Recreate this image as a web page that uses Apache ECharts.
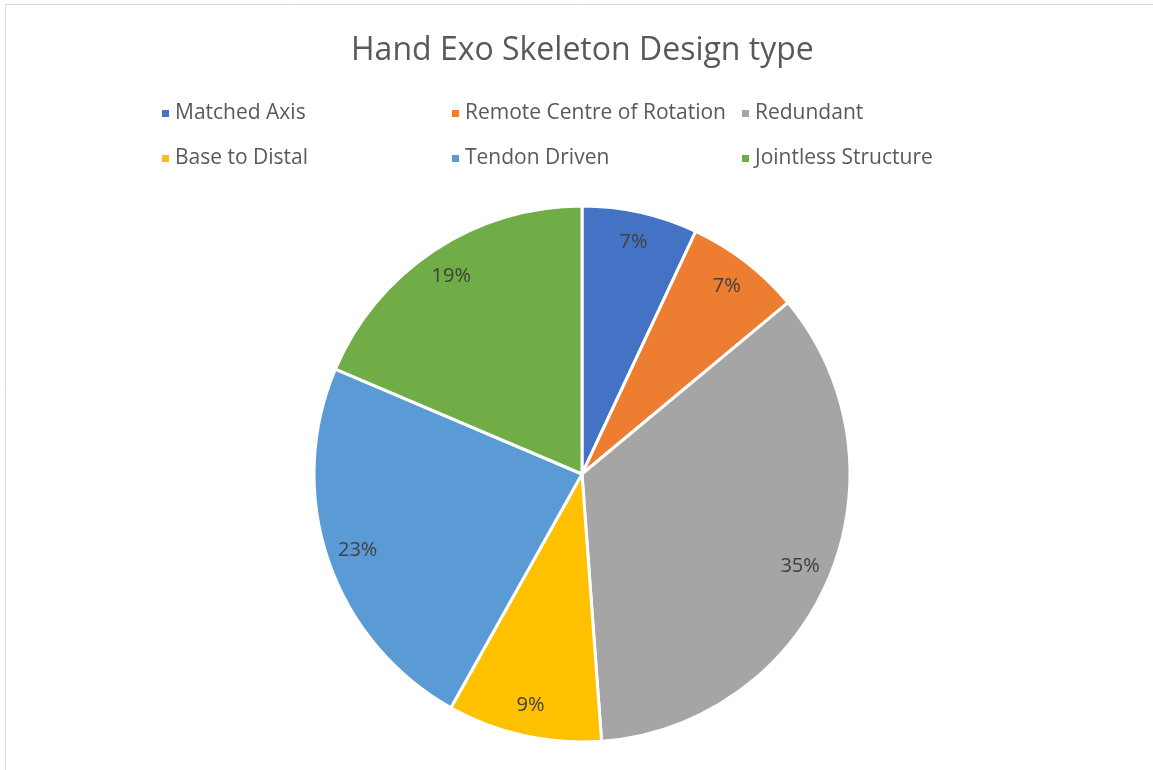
<!DOCTYPE html>
<html>
<head>
<meta charset="utf-8">
<script src="https://cdn.jsdelivr.net/npm/echarts@6/dist/echarts.min.js"></script>
<style>html,body{margin:0;padding:0;background:#fff;}#c{width:1153px;height:770px;}</style>
</head>
<body>
<div id="c"></div>
<script>
const categories = ['Matched Axis', 'Remote Centre of Rotation', 'Redundant', 'Base to Distal', 'Tendon Driven', 'Jointless Structure'];
const values = [3, 3, 15, 4, 10, 8];
const colors = ['#4472C4', '#ED7D31', '#A5A5A5', '#FFC000', '#5B9BD5', '#70AD47'];
const legendPos = [[160, 103], [450, 103], [740, 103], [160, 148], [450, 148], [740, 148]];

const FONT = '"Open Sans", "Noto Sans", sans-serif';
const data = categories.map((n, i) => ({ name: n, value: values[i], itemStyle: { color: colors[i] } }));
const total = values.reduce((a, b) => a + b, 0);

const chart = echarts.init(document.getElementById('c'), null, { renderer: 'canvas' });
chart.setOption({
  backgroundColor: '#fff',
  animation: false,
  title: {
    text: 'Hand Exo Skeleton Design type',
    left: 351, top: 35, padding: 0,
    textStyle: { fontFamily: FONT, fontSize: 32, fontWeight: 'normal', color: '#595959' }
  },
  graphic: [{
    type: 'rect', shape: { x: 5.5, y: 4.5, width: 1200, height: 800 },
    style: { fill: 'none', stroke: '#D9D9D9', lineWidth: 1 }, silent: true
  }],
  legend: categories.map((n, i) => ({
    data: [n], left: legendPos[i][0], top: legendPos[i][1],
    itemWidth: 9, itemHeight: 9, icon: 'rect', padding: 0, selectedMode: false,
    textStyle: { fontFamily: FONT, fontSize: 21, color: '#595959' }
  })),
  series: [{
    type: 'pie', center: [582, 474], radius: 268, startAngle: 90, clockwise: true,
    data: data,
    itemStyle: { borderColor: '#fff', borderWidth: 3 },
    label: { show: false }, labelLine: { show: false }, emphasis: { disabled: true }
  }, {
    type: 'pie', center: [582, 474], radius: [200, 268], startAngle: 90, clockwise: true,
    silent: true,
    data: data.map(d => ({ name: d.name, value: d.value, itemStyle: { color: 'rgba(0,0,0,0)' } })),
    label: {
      show: true, position: 'inside', fontFamily: FONT, fontSize: 20, color: '#404040',
      formatter: p => Math.round(p.value / total * 100) + '%'
    },
    labelLine: { show: false }, emphasis: { disabled: true }
  }]
});
</script>
</body>
</html>
